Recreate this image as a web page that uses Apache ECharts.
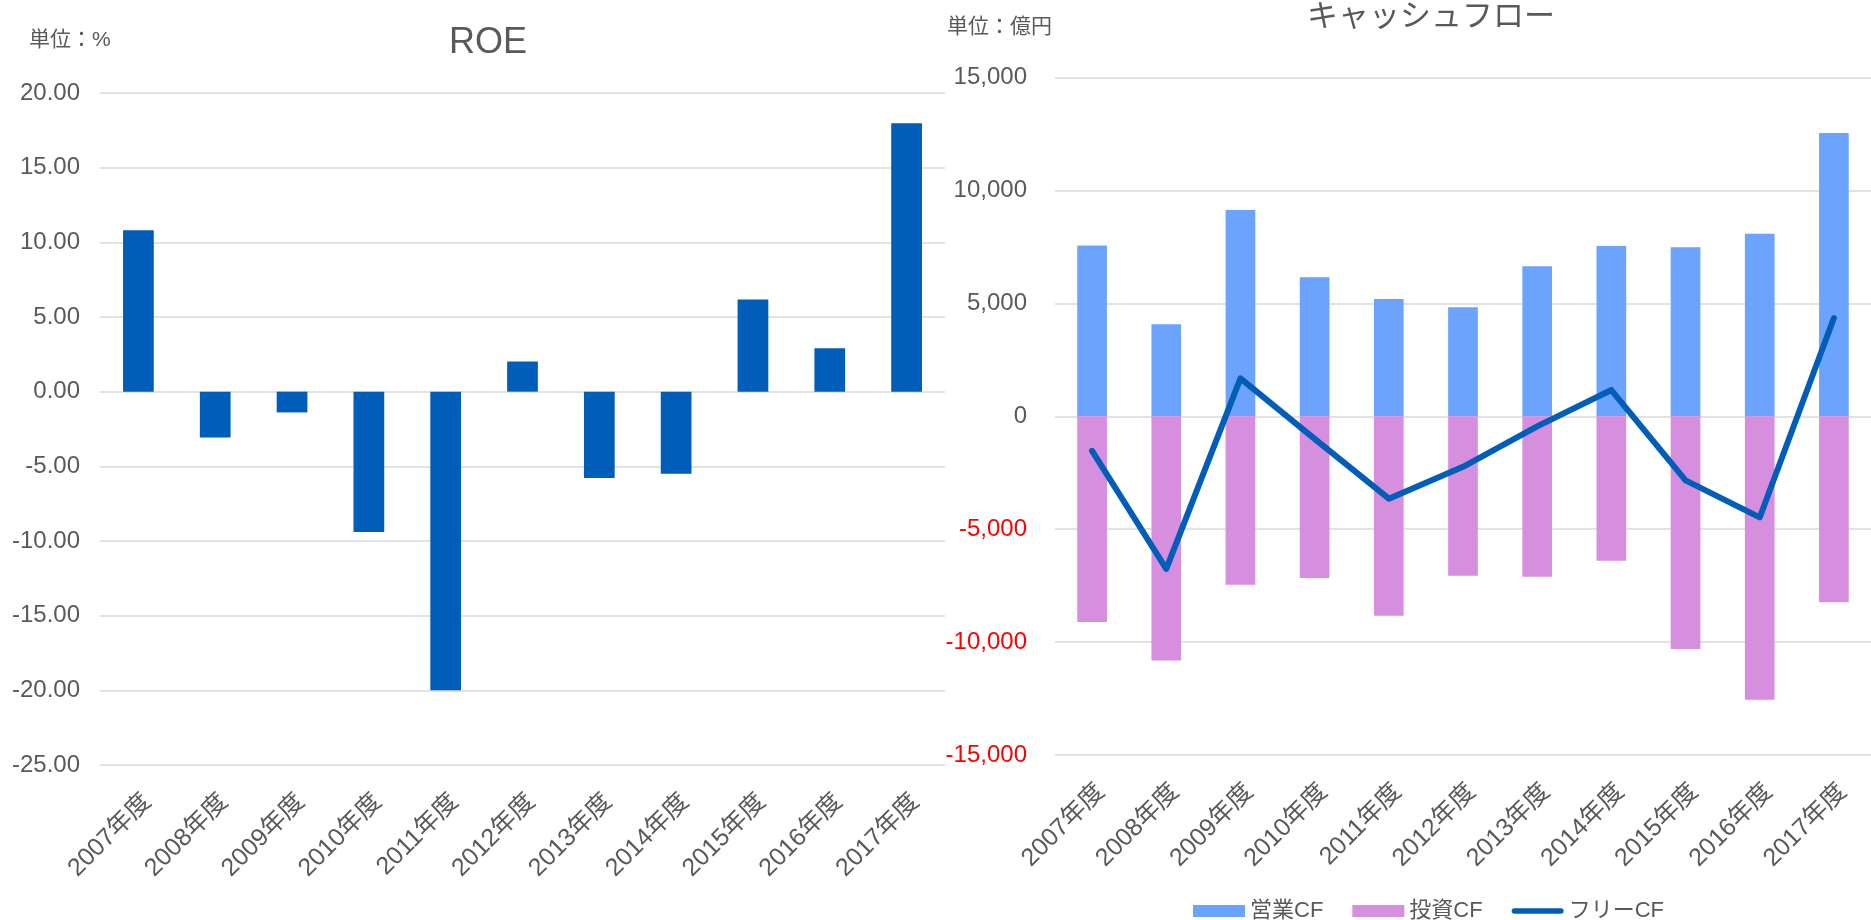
<!DOCTYPE html>
<html>
<head>
<meta charset="utf-8">
<script src="https://cdn.jsdelivr.net/npm/echarts@6/dist/echarts.min.js"></script>
<style>
  html, body { margin: 0; padding: 0; background: #fff; }
  #chart { width: 1871px; height: 920px; }
</style>
</head>
<body>
<div id="chart"></div>
<script>
// 年度
var years = ['2007年度', '2008年度', '2009年度', '2010年度', '2011年度', '2012年度',
             '2013年度', '2014年度', '2015年度', '2016年度', '2017年度'];
// ROE (%)
var roe = [10.81, -3.07, -1.39, -9.40, -20.0, 2.02, -5.78, -5.50, 6.17, 2.91, 17.98];
// キャッシュフロー (億円)
var opCF = [7566, 4071, 9130, 6150, 5192, 4823, 6637, 7537, 7478, 8083, 12537];
var invCF = [-9108, -10813, -7463, -7158, -8833, -7067, -7112, -6397, -10311, -12550, -8239];
var freeCF = [-1530, -6760, 1680, -1000, -3650, -2240, -450, 1160, -2840, -4480, 4350];

var font = '"Liberation Sans", "Noto Sans CJK JP", sans-serif';
var grey = '#595959';

var myChart = echarts.init(document.getElementById('chart'));

myChart.setOption({
    backgroundColor: '#fff',
    animation: false,
    textStyle: { fontFamily: font },
    title: [
        { text: 'ROE', left: 444, top: 20,
          textStyle: { fontSize: 36, fontWeight: 'normal', color: grey, fontFamily: font } },
        { text: 'キャッシュフロー', left: 1302, top: -3,
          textStyle: { fontSize: 31, fontWeight: 'normal', color: grey, fontFamily: font } },
        { text: '単位：%', left: 24, top: 25,
          textStyle: { fontSize: 21, fontWeight: 'normal', color: grey, fontFamily: font } },
        { text: '単位：億円', left: 942, top: 12,
          textStyle: { fontSize: 21, fontWeight: 'normal', color: grey, fontFamily: font } }
    ],
    legend: {
        left: 1188,
        top: 895,
        itemWidth: 52,
        itemHeight: 12,
        itemGap: 29,
        textStyle: { fontSize: 22, color: grey, fontFamily: font },
        data: [
            { name: '営業CF', icon: 'rect' },
            { name: '投資CF', icon: 'rect' },
            { name: 'フリーCF', icon: 'path://M3,0H53A3,3,0,0,1,53,6H3A3,3,0,0,1,3,0Z' }
        ]
    },
    grid: [
        { left: 100, top: 93, width: 845, height: 672 },
        { left: 1055, top: 77.5, width: 828, height: 677.5 }
    ],
    xAxis: [
        { type: 'category', gridIndex: 0, data: years,
          axisLine: { show: false, onZero: false }, axisTick: { show: false },
          axisLabel: { rotate: 45, margin: 24, fontSize: 25, verticalAlign: 'top',
                       color: grey, fontFamily: font } },
        { type: 'category', gridIndex: 1, data: years,
          axisLine: { show: false, onZero: false }, axisTick: { show: false },
          axisLabel: { rotate: 45, margin: 24, fontSize: 25, verticalAlign: 'top',
                       color: grey, fontFamily: font } }
    ],
    yAxis: [
        { type: 'value', gridIndex: 0, min: -25, max: 20, interval: 5,
          axisLine: { show: false }, axisTick: { show: false },
          splitLine: { lineStyle: { color: '#D9D9D9', width: 1.5 } },
          axisLabel: { margin: 20, fontSize: 24, color: grey, fontFamily: font,
                       formatter: function (v) { return v.toFixed(2); } } },
        { type: 'value', gridIndex: 1, min: -15000, max: 15000, interval: 5000,
          axisLine: { show: false }, axisTick: { show: false },
          splitLine: { lineStyle: { color: '#D9D9D9', width: 1.5 } },
          axisLabel: { margin: 28, fontSize: 24, fontFamily: font,
                       color: function (v) { return Number(v) < 0 ? '#FF0000' : grey; },
                       formatter: function (v) { return v.toLocaleString('en-US'); } } }
    ],
    series: [
        { name: 'ROE', type: 'bar', xAxisIndex: 0, yAxisIndex: 0,
          barWidth: '40%', itemStyle: { color: '#005EB8' }, data: roe },
        { name: '営業CF', type: 'bar', xAxisIndex: 1, yAxisIndex: 1, stack: 'cf',
          barWidth: '40%', itemStyle: { color: '#6BA3FF' }, data: opCF },
        { name: '投資CF', type: 'bar', xAxisIndex: 1, yAxisIndex: 1, stack: 'cf',
          barWidth: '40%', itemStyle: { color: '#D68EDE' }, data: invCF },
        { name: 'フリーCF', type: 'line', xAxisIndex: 1, yAxisIndex: 1,
          symbol: 'none', lineStyle: { color: '#005EB8', width: 6, cap: 'round', join: 'round' },
          itemStyle: { color: '#005EB8' }, data: freeCF, z: 5 }
    ]
});
</script>
</body>
</html>
